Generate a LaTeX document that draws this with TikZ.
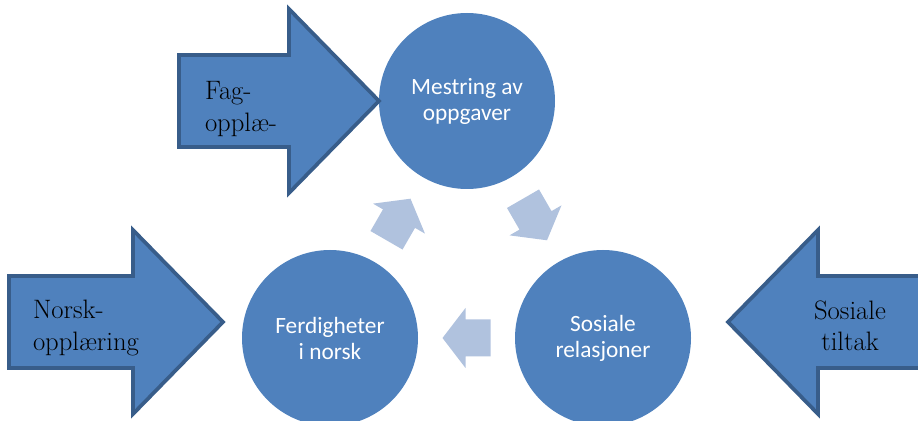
\documentclass[tikz,border=0pt]{standalone}
\usepackage{fontspec}
\newfontfamily\smartfont{Carlito}
\usetikzlibrary{positioning}
\definecolor{accentblue}{HTML}{4F81BD}
\definecolor{accentline}{HTML}{385D8A}
\definecolor{cyclelight}{HTML}{B0C2DE}

\begin{document}
\begin{tikzpicture}[x=0.75pt,y=0.75pt,
	bubble/.style={circle,minimum size=132pt,inner sep=0pt,outer sep=0pt,fill=accentblue,text=white,align=center,font=\smartfont\fontsize{17.5}{19.5}\selectfont},
	blockarrow/.style={fill=accentblue,draw=accentline,line width=2.8pt,line join=miter},
	cyclearrow/.style={fill=cyclelight},
	blocklabel/.style={inner sep=0pt,outer sep=0pt,font=\fontsize{20}{23.5}\selectfont}]
	\clip (0,0) rectangle (918,421);

	\node [bubble] at (467,320) (mestring) {Mestring av\\oppgaver};
	\node [bubble] at (330,83) (ferdig) {Ferdigheter\\i norsk};
	\node [bubble] at (603,83) (sosial) {Sosiale\\relasjoner};

	\path (ferdig) -- (mestring) coordinate[midway] (ferdig_mestring);
	\path (mestring) -- (sosial) coordinate[midway] (mestring_sosial);
	\path (sosial) -- (ferdig) coordinate[midway] (sosial_ferdig);

	\fill[cyclearrow,shift={(ferdig_mestring)},rotate=60] (-24,-18.5) -- (1,-18.5) -- (1,-30) -- (24,0) -- (1,30) -- (1,18.5) -- (-24,18.5) -- cycle;
	\fill[cyclearrow,shift={(mestring_sosial)},rotate=-60] (-24,-18.5) -- (1,-18.5) -- (1,-30) -- (24,0) -- (1,30) -- (1,18.5) -- (-24,18.5) -- cycle;
	\fill[cyclearrow,shift={(sosial_ferdig)},rotate=180] (-24,-18.5) -- (1,-18.5) -- (1,-30) -- (24,0) -- (1,30) -- (1,18.5) -- (-24,18.5) -- cycle;

	\coordinate (norsk_tip) at (223,99);
	\coordinate (tiltak_tip) at (728,99);

	\draw[blockarrow] (mestring.west) -- ++(-90,92) -- ++(0,-46) -- ++(-110,0) -- ++(0,-92) -- ++(110,0) -- ++(0,-46) -- cycle;
	\draw[blockarrow] (norsk_tip) -- ++(-90,92) -- ++(0,-46) -- ++(-124,0) -- ++(0,-92) -- ++(124,0) -- ++(0,-46) -- cycle;
	\draw[blockarrow] (tiltak_tip) -- ++(90,92) -- ++(0,-46) -- ++(110,0) -- ++(0,-92) -- ++(-110,0) -- ++(0,-46) -- cycle;

	\node [blocklabel,align=left,anchor=west] at (205,312) (fag_txt) {Fag-\\oppl\ae-};
	\node [blocklabel,align=left,anchor=west] at (33,93) (norsk_txt) {Norsk-\\oppl\ae ring};
	\node [blocklabel,align=center] at (850,95) (tiltak_txt) {Sosiale\\tiltak};
\end{tikzpicture}
\end{document}
